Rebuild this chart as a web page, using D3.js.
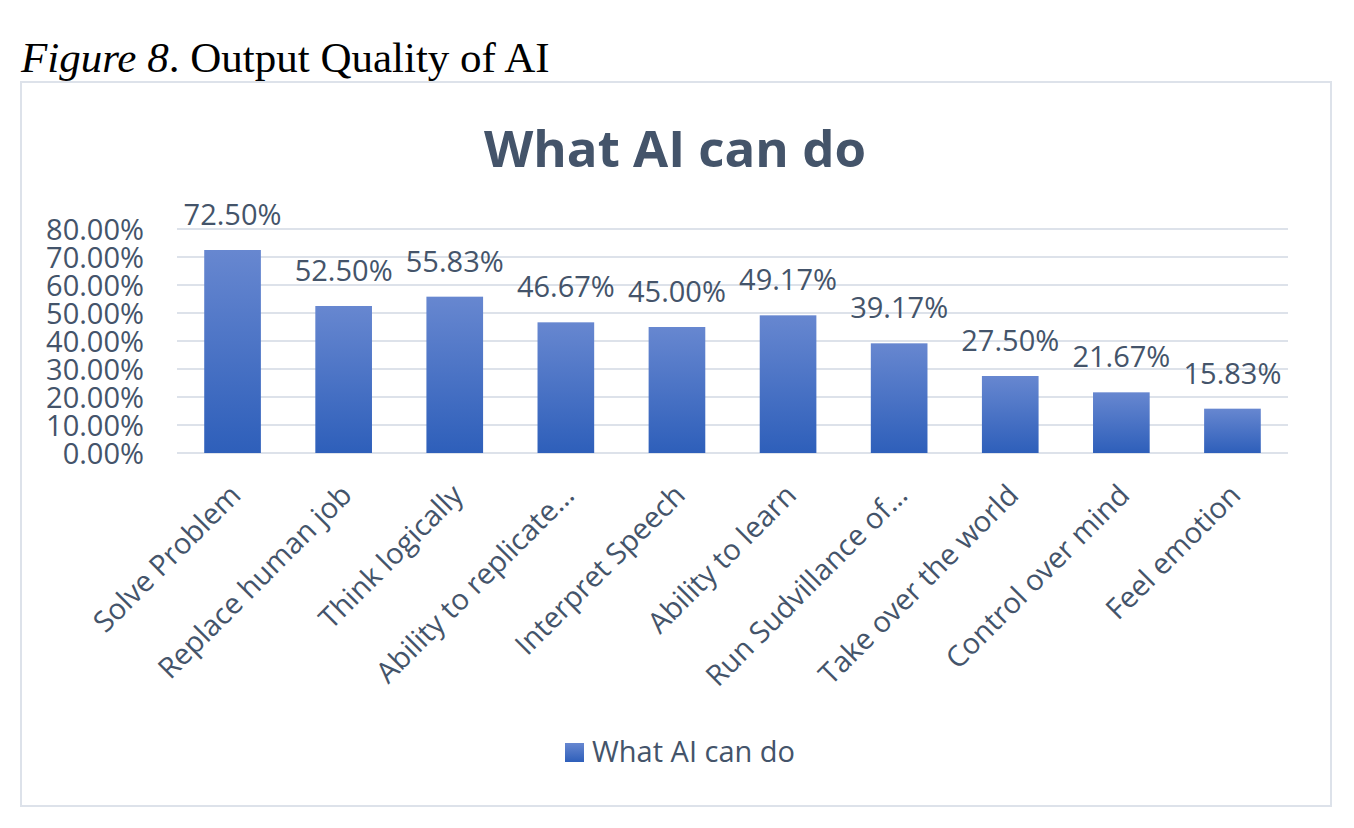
<!DOCTYPE html>
<html>
<head>
<meta charset="utf-8">
<script src="https://cdn.jsdelivr.net/npm/d3@7"></script>
<style>
  html, body { margin: 0; padding: 0; background: #ffffff; }
  svg { display: block; }
</style>
</head>
<body>
<svg id="chart" width="1354" height="828"></svg>
<script>
const categories = ["Solve Problem", "Replace human job", "Think logically", "Ability to replicate…", "Interpret Speech", "Ability to learn", "Run Sudvillance of…", "Take over the world", "Control over mind", "Feel emotion"];
const values = [72.50, 52.50, 55.83, 46.67, 45.00, 49.17, 39.17, 27.50, 21.67, 15.83];
const yTicks = [0, 10, 20, 30, 40, 50, 60, 70, 80];
const seriesName = "What AI can do";
const chartTitle = "What AI can do";

const svg = d3.select("#chart");
const textColor = "#44546a";
const gridColor = "#dde2ea";
const font = "'Open Sans', sans-serif";

const defs = svg.append("defs");
const grad = defs.append("linearGradient").attr("id", "barGrad")
  .attr("x1", 0).attr("y1", 0).attr("x2", 0).attr("y2", 1);
grad.append("stop").attr("offset", "0%").attr("stop-color", "#6787d0");
grad.append("stop").attr("offset", "100%").attr("stop-color", "#2e5fba");

const cap = svg.append("text").attr("x", 21).attr("y", 72)
  .attr("font-family", "'Liberation Serif', 'Times New Roman', serif")
  .attr("font-size", 43).attr("fill", "#000");
cap.append("tspan").attr("font-style", "italic").text("Figure 8");
cap.append("tspan").text(". Output Quality of AI");

svg.append("rect").attr("x", 21).attr("y", 82).attr("width", 1310).attr("height", 724)
  .attr("fill", "none").attr("stroke", gridColor).attr("stroke-width", 2);

svg.append("text").attr("x", 675).attr("y", 167).attr("text-anchor", "middle")
  .attr("font-family", font).attr("font-weight", "bold").attr("font-size", 51)
  .attr("fill", textColor).text(chartTitle);

const plotLeft = 177, plotRight = 1288, plotTop = 229, plotBottom = 453;
const x = d3.scaleBand().domain(categories).range([plotLeft, plotRight]).paddingInner(0.49).paddingOuter(0.245);
const y = d3.scaleLinear().domain([0, 80]).range([plotBottom, plotTop]);

svg.append("g").selectAll("line").data(yTicks).join("line")
  .attr("x1", plotLeft).attr("x2", plotRight)
  .attr("y1", d => y(d)).attr("y2", d => y(d))
  .attr("stroke", gridColor).attr("stroke-width", 2);

const yAxis = d3.axisLeft(y).tickValues(yTicks).tickSize(0).tickPadding(0)
  .tickFormat(d => d.toFixed(2) + "%");
const yg = svg.append("g").attr("transform", `translate(144,0)`).call(yAxis);
yg.select(".domain").remove();
yg.selectAll("text").attr("font-family", font).attr("font-size", 29).attr("fill", textColor).attr("dy", "0.36em");

svg.append("g").selectAll("rect").data(values).join("rect")
  .attr("x", (d, i) => x(categories[i]))
  .attr("width", x.bandwidth())
  .attr("y", d => y(d))
  .attr("height", d => y(0) - y(d))
  .attr("fill", "url(#barGrad)");

svg.append("g").selectAll("text").data(values).join("text")
  .attr("x", (d, i) => x(categories[i]) + x.bandwidth() / 2)
  .attr("y", d => y(d) - 25)
  .attr("text-anchor", "middle")
  .attr("font-family", font).attr("font-size", 29).attr("fill", textColor)
  .text(d => d.toFixed(2) + "%");

const xAxis = d3.axisBottom(x).tickSize(0).tickPadding(0);
const xg = svg.append("g").attr("transform", `translate(0,${plotBottom})`).call(xAxis);
xg.select(".domain").remove();
xg.selectAll("text")
  .attr("font-family", font).attr("font-size", 29).attr("fill", textColor)
  .attr("text-anchor", "end")
  .attr("dy", null).attr("y", 0)
  .attr("transform", "translate(10,44) rotate(-45)");

const lg = svg.append("g");
lg.append("rect").attr("x", 565).attr("y", 743).attr("width", 19).attr("height", 19).attr("fill", "url(#barGrad)");
lg.append("text").attr("x", 592).attr("y", 762).attr("font-family", font).attr("font-size", 29)
  .attr("fill", textColor).text(seriesName);
</script>
</body>
</html>
